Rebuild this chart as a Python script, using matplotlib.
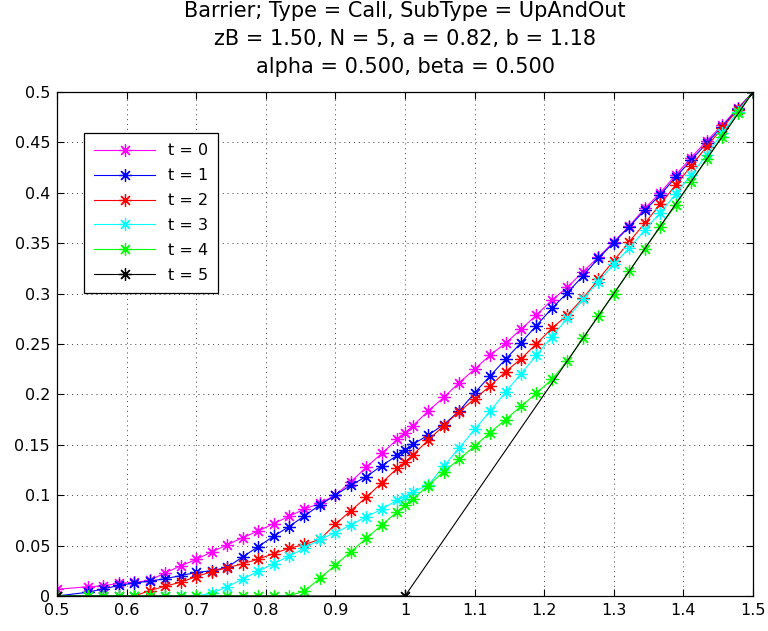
import matplotlib
matplotlib.use("Agg")
import matplotlib.pyplot as plt
from matplotlib.ticker import FormatStrFormatter, MultipleLocator

# asset grid (shared by t = 0..4)
s = [0.5, 0.5444, 0.5667, 0.5889, 0.6111, 0.6333, 0.6556, 0.6778, 0.7, 0.7222,
     0.7444, 0.7667, 0.7889, 0.8111, 0.8333, 0.8556, 0.8778, 0.9, 0.9222, 0.9444,
     0.9667, 0.9889, 1.0, 1.0111, 1.0333, 1.0556, 1.0778, 1.1, 1.1222, 1.1444,
     1.1667, 1.1889, 1.2111, 1.2333, 1.2556, 1.2778, 1.3, 1.3222, 1.3444, 1.3667,
     1.3889, 1.4111, 1.4333, 1.4556, 1.4778, 1.5]

v0 = [0.0066, 0.0092, 0.0101, 0.0126, 0.0135, 0.0155, 0.0230, 0.0299, 0.0362, 0.0437,
      0.0506, 0.0580, 0.0643, 0.0718, 0.0790, 0.0862, 0.0920, 0.1000, 0.1134, 0.1277,
      0.1415, 0.1554, 0.1620, 0.1687, 0.1835, 0.1970, 0.2116, 0.2250, 0.2390, 0.2507,
      0.2646, 0.2788, 0.2937, 0.3062, 0.3218, 0.3360, 0.3515, 0.3670, 0.3846, 0.4000,
      0.4177, 0.4350, 0.4514, 0.4670, 0.4838, 0.5000]

v1 = [0.0, 0.0037, 0.0071, 0.0104, 0.0129, 0.0147, 0.0172, 0.0202, 0.0233, 0.0250,
      0.0284, 0.0387, 0.0489, 0.0592, 0.0688, 0.0795, 0.0903, 0.1000, 0.1100, 0.1184,
      0.1293, 0.1395, 0.1445, 0.1503, 0.1597, 0.1700, 0.1835, 0.2015, 0.2183, 0.2348,
      0.2513, 0.2683, 0.2854, 0.3009, 0.3175, 0.3350, 0.3505, 0.3664, 0.3826, 0.3978,
      0.4154, 0.4325, 0.4490, 0.4656, 0.4828, 0.5000]

v2 = [0.0, 0.0, 0.0, 0.0, 0.0, 0.0053, 0.0097, 0.0137, 0.0192, 0.0241,
      0.0279, 0.0320, 0.0365, 0.0420, 0.0473, 0.0511, 0.0562, 0.0711, 0.0847, 0.0979,
      0.1124, 0.1267, 0.1328, 0.1399, 0.1545, 0.1690, 0.1830, 0.1955, 0.2083, 0.2225,
      0.2353, 0.2503, 0.2656, 0.2788, 0.2953, 0.3142, 0.3327, 0.3515, 0.3697, 0.3886,
      0.4077, 0.4266, 0.4458, 0.4640, 0.4821, 0.5000]

v3 = [0.0, 0.0, 0.0, 0.0, 0.0, 0.0, 0.0, 0.0, 0.0, 0.0026,
      0.0092, 0.0167, 0.0245, 0.0320, 0.0395, 0.0473, 0.0562, 0.0628, 0.0704, 0.0787,
      0.0860, 0.0952, 0.0985, 0.1030, 0.1100, 0.1287, 0.1468, 0.1652, 0.1833, 0.2022,
      0.2205, 0.2390, 0.2573, 0.2755, 0.2943, 0.3118, 0.3294, 0.3449, 0.3631, 0.3803,
      0.3988, 0.4177, 0.4375, 0.4590, 0.4805, 0.5000]

v4 = [0.0, 0.0, 0.0, 0.0, 0.0, 0.0, 0.0, 0.0, 0.0, 0.0,
      0.0, 0.0, 0.0, 0.0, 0.0, 0.0050, 0.0175, 0.0308, 0.0440, 0.0572,
      0.0704, 0.0836, 0.0898, 0.0959, 0.1096, 0.1233, 0.1356, 0.1488, 0.1620, 0.1750,
      0.1882, 0.2012, 0.2150, 0.2330, 0.2557, 0.2778, 0.3000, 0.3222, 0.3444, 0.3664,
      0.3879, 0.4110, 0.4332, 0.4557, 0.4788, 0.5000]

# payoff at maturity
s5 = [0.5, 1.0, 1.5]
v5 = [0.0, 0.0, 0.5]

series = [(s, v0, '#ff00ff', 't = 0'), (s, v1, '#0000ff', 't = 1'),
          (s, v2, '#ff0000', 't = 2'), (s, v3, '#00ffff', 't = 3'),
          (s, v4, '#00ff00', 't = 4'), (s5, v5, '#000000', 't = 5')]

plt.rcParams['font.family'] = 'DejaVu Sans'
fig = plt.figure(figsize=(7.68, 6.31), dpi=100)
ax = fig.add_axes([0.0742, 0.0555, 0.9063, 0.7987])

# asterisk marker: four strokes through the centre
star = (8, 2, 0)
for xs, ys, c, lab in series:
    ax.plot(xs, ys, '-', marker=star, color=c, lw=0.8,
            markersize=9, markeredgewidth=0.9, label=lab)

ax.set_xlim(0.5, 1.5)
ax.set_ylim(0, 0.5)
ax.xaxis.set_major_locator(MultipleLocator(0.1))
ax.yaxis.set_major_locator(MultipleLocator(0.05))
ax.xaxis.set_major_formatter(FormatStrFormatter('%g'))
ax.yaxis.set_major_formatter(FormatStrFormatter('%g'))
ax.tick_params(direction='in', top=True, right=True, length=5, width=0.8,
               labelsize=11.5)
ax.tick_params(axis='x', pad=5)
ax.tick_params(axis='y', pad=5)
ax.grid(True, color='0.25', linestyle=(0, (1, 4)), linewidth=0.7)
for sp in ax.spines.values():
    sp.set_linewidth(0.9)

ax.set_title('Barrier; Type = Call, SubType = UpAndOut\n'
             'zB = 1.50, N = 5, a = 0.82, b = 1.18\n'
             'alpha = 0.500, beta = 0.500', fontsize=15, linespacing=1.5, pad=14)

leg = ax.legend(loc='upper left', bbox_to_anchor=(0.0388, 0.9187), borderaxespad=0,
                fontsize=11.5, fancybox=False, framealpha=1, edgecolor='k',
                handlelength=3.8, labelspacing=0.62, borderpad=0.65)
leg.get_frame().set_linewidth(0.9)

fig.savefig('out.png', dpi=100)
